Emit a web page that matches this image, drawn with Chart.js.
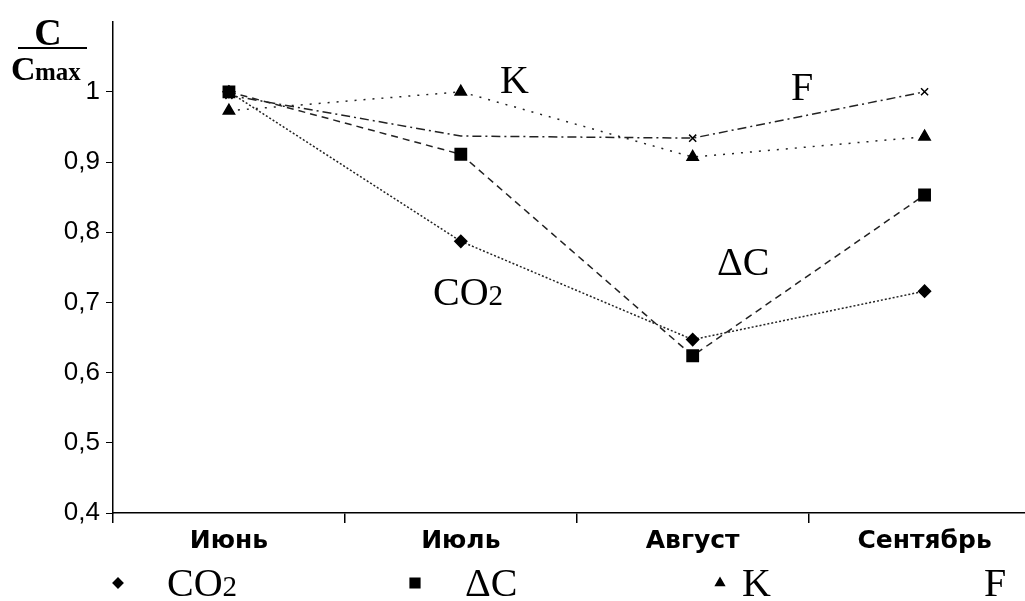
<!DOCTYPE html>
<html>
<head>
<meta charset="utf-8">
<script src="https://cdn.jsdelivr.net/npm/chart.js@4.4.1/dist/chart.umd.min.js"></script>
<style>
  html, body { margin: 0; padding: 0; background: #fff; overflow: hidden; }
  #wrap { position: absolute; left: 0; top: 0; width: 1050px; height: 601px; }
</style>
</head>
<body>
<div id="wrap"><canvas id="chart"></canvas></div>
<script>
const months = ['Июнь', 'Июль', 'Август', 'Сентябрь'];
const seriesNames = ['CO2', 'ΔC', 'K', 'F'];
const co2Values = [1.0, 0.787, 0.647, 0.716];
const deltaCValues = [1.0, 0.911, 0.624, 0.853];
const kValues = [0.973, 1.0, 0.907, 0.936];
const fValues = [0.995, 0.937, 0.934, 1.0];
const yMin = 0.4;
const yMax = 1.1;
const yStep = 0.1;

const serif = '"Liberation Serif", "Times New Roman", serif';

// draws "CO2" with a smaller trailing digit, like the scan
function drawName(ctx, name, x, y, size) {
    const m = name.match(/^(.*?)(\d*)$/);
    ctx.font = size + 'px ' + serif;
    ctx.fillText(m[1], x, y);
    if (m[2]) {
        const w = ctx.measureText(m[1]).width;
        ctx.font = Math.round(size * 0.72) + 'px ' + serif;
        ctx.fillText(m[2], x + w, y);
    }
}

const annotations = {
    id: 'annotations',
    afterDraw(chart) {
        const ctx = chart.ctx;
        ctx.save();
        ctx.fillStyle = '#000';
        ctx.strokeStyle = '#000';
        ctx.textBaseline = 'alphabetic';
        ctx.textAlign = 'left';

        // y axis title  C / Cmax
        ctx.font = 'bold 38px ' + serif;
        ctx.textAlign = 'center';
        ctx.fillText('C', 48, 45);
        ctx.lineWidth = 2;
        ctx.beginPath();
        ctx.moveTo(18, 48);
        ctx.lineTo(87, 48);
        ctx.stroke();
        ctx.textAlign = 'left';
        ctx.font = 'bold 34px ' + serif;
        ctx.fillText('C', 11, 80);
        ctx.font = 'bold 25px ' + serif;
        ctx.fillText('max', 35, 80);

        // series names next to the lines
        const tagPos = [[433, 305], [717, 275], [500, 93], [791, 100]];
        seriesNames.forEach((name, i) => drawName(ctx, name, tagPos[i][0], tagPos[i][1], 40));

        // legend row
        const markerX = [118, 415, 720, null];
        const textX = [167, 465, 742, 984];
        chart.data.datasets.forEach((ds, i) => {
            if (markerX[i] !== null) {
                Chart.helpers.drawPoint(ctx, {
                    pointStyle: ds.pointStyle,
                    radius: ds.legendRadius,
                    borderWidth: 1,
                    rotation: 0
                }, markerX[i], 583);
            }
            drawName(ctx, ds.label, textX[i], 596, 40);
        });
        ctx.restore();
    }
};

new Chart(document.getElementById('chart'), {
    type: 'line',
    data: {
        labels: months,
        datasets: [
            {
                label: seriesNames[0],
                data: co2Values,
                pointStyle: 'rectRot',
                pointRadius: 6,
                legendRadius: 4.5,
                borderDash: [2, 2],
                order: 1
            },
            {
                label: seriesNames[1],
                data: deltaCValues,
                pointStyle: 'rect',
                pointRadius: 8,
                legendRadius: 6.5,
                borderDash: [7, 5],
                order: 0
            },
            {
                label: seriesNames[2],
                data: kValues,
                pointStyle: 'triangle',
                pointRadius: 6.5,
                legendRadius: 4.5,
                borderDash: [2, 7],
                order: 2
            },
            {
                label: seriesNames[3],
                data: fValues,
                pointStyle: 'crossRot',
                pointRadius: [5, 0, 5, 5],
                pointBorderWidth: 1.5,
                legendRadius: 0,
                borderDash: [9, 4, 2, 4],
                order: 3
            }
        ].map(ds => Object.assign({
            borderColor: '#222',
            backgroundColor: '#000',
            pointBackgroundColor: '#000',
            pointBorderColor: '#000',
            borderWidth: 1.5,
            tension: 0,
            fill: false
        }, ds))
    },
    options: {
        responsive: true,
        maintainAspectRatio: false,
        animation: false,
        layout: { padding: { top: 21, right: 7, left: 0, bottom: 0 } },
        plugins: {
            legend: { display: false },
            tooltip: { enabled: false }
        },
        scales: {
            x: {
                offset: true,
                grid: {
                    offset: true,
                    drawOnChartArea: false,
                    tickLength: 10,
                    color: '#000',
                    lineWidth: 1.5
                },
                border: { color: '#000', width: 1.5 },
                ticks: {
                    color: '#000',
                    padding: 3,
                    font: { family: '"DejaVu Sans", sans-serif', size: 25, weight: 'bold' }
                },
                afterFit(scale) { scale.height = 88; }
            },
            y: {
                min: yMin,
                max: yMax,
                grid: {
                    drawOnChartArea: false,
                    tickLength: 7,
                    color: '#000',
                    lineWidth: 1
                },
                border: { color: '#000', width: 1.5 },
                ticks: {
                    stepSize: yStep,
                    color: '#000',
                    padding: 6,
                    font: { family: '"Liberation Sans", Arial, sans-serif', size: 26 },
                    callback(v) {
                        const r = Math.round(v * 10) / 10;
                        return r > 1 ? null : String(r).replace('.', ',');
                    }
                },
                afterFit(scale) { scale.width = 113; }
            }
        }
    },
    plugins: [annotations]
});
</script>
</body>
</html>
